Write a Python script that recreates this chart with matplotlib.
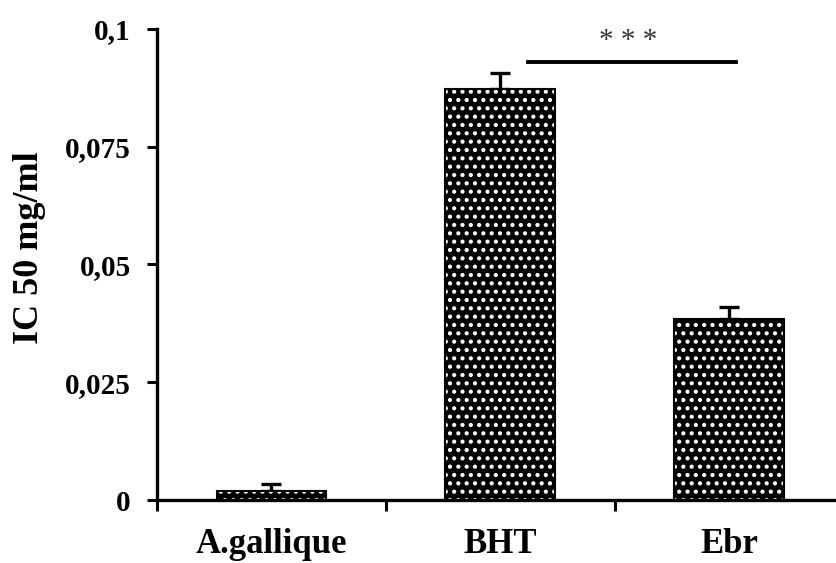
import numpy as np
import matplotlib.pyplot as plt

# IC50 values
samples = ["A.gallique", "BHT", "Ebr"]
ic50 = [0.0019, 0.0872, 0.0384]
errors = [0.0015, 0.0034, 0.0026]

plt.rcParams['font.family'] = ['Liberation Serif', 'DejaVu Serif']
plt.rcParams['hatch.linewidth'] = 1.8

fig = plt.figure(figsize=(8.37, 5.63), dpi=100)
ax = fig.add_axes([0.1876, 0.1119, 0.8124, 0.8366])

x = np.arange(len(samples))
# black bars with a white dot pattern
ax.bar(x, ic50, width=0.48, color="black", edgecolor="white", hatch="..", linewidth=0, zorder=2)
ax.bar(x, ic50, width=0.48, fill=False, edgecolor="black", linewidth=1.5, zorder=3)
ax.errorbar(x, ic50, yerr=[np.zeros(len(errors)), errors], fmt="none",
            ecolor="black", elinewidth=2.4, capsize=7, capthick=2.4, zorder=1)

# significance bar between BHT and Ebr
ax.plot([1.12, 2.03], [0.093, 0.093], color="black", lw=2.8, clip_on=False)
ax.text(1.56, 0.0975, "* * *", ha="center", va="center", fontsize=21, color="#333333")

ax.set_xlim(-0.5, 2.47)
ax.set_ylim(0, 0.1)
ax.set_yticks([0, 0.025, 0.05, 0.075, 0.1])
ax.set_yticklabels(["0", "0,025", "0,05", "0,075", "0,1"], fontsize=21, fontweight="bold")
ax.set_xticks([-0.5, 0.5, 1.5])
ax.set_xticklabels([])
ax.set_xticks(x, minor=True)
ax.set_xticklabels(samples, minor=True, fontsize=25, fontweight="bold")
ax.tick_params(axis="x", which="minor", length=0, pad=20)
ax.tick_params(axis="x", which="major", length=8, width=2.2, direction="out")
ax.tick_params(axis="y", length=7, width=2.2, direction="out", pad=12)
ax.set_ylabel("IC 50 mg/ml", fontsize=26, fontweight="bold")
ax.yaxis.set_label_coords(-0.163, 0.535)

for s in ["top", "right"]:
    ax.spines[s].set_visible(False)
for s in ["left", "bottom"]:
    ax.spines[s].set_linewidth(2.4)

fig.savefig("out.png", dpi=100)
